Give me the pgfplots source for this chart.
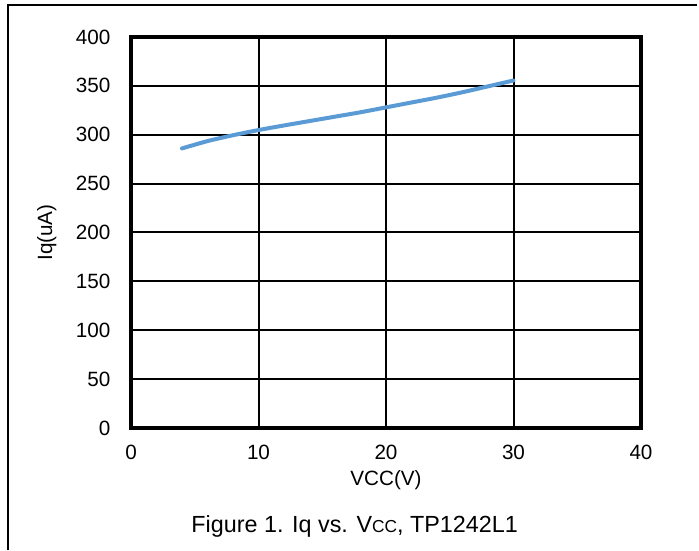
\documentclass[border=0pt]{standalone}
\usepackage{fontspec}
\setmainfont{Liberation Sans}
\usepackage{pgfplots}
\pgfplotsset{compat=1.18}
\definecolor{lineblue}{HTML}{5B9BD5}
\newcommand{\fs}{\fontsize{15.5}{18}\selectfont}
\begin{document}
\begin{tikzpicture}
\path[use as bounding box] (0,0) rectangle (524.25pt,412.5pt);
\draw[line width=2pt] (6pt,0) -- (6pt,408.75pt) -- (522.75pt,408.75pt);
\begin{axis}[
  at={(98.25pt,91.5pt)}, anchor=south west,
  scale only axis, width=382.5pt, height=293.25pt,
  xmin=0, xmax=40, ymin=0, ymax=400,
  xtick={0,10,20,30,40}, ytick={0,50,...,400},
  grid=major, major grid style={black, line width=1.5pt},
  axis line style={black, line width=3pt},
  tick style={draw=none},
  /pgf/number format/assume math mode=true,
  tick label style={font=\fs},
  yticklabel style={xshift=-12pt},
  xticklabel style={yshift=-9pt},
  xlabel={VCC(V)}, ylabel={Iq(uA)},
  label style={font=\fs},
  xlabel style={at={(axis description cs:0.5,-0.133)}, anchor=center},
  ylabel style={at={(axis description cs:-0.165,0.5)}, anchor=center, rotate=0},
]
\addplot[lineblue, line width=3pt, smooth, tension=0.5, line cap=round] coordinates {
(4,286) (6,293.5) (8,299.5) (10,304.8) (12,309.5) (14,314) (16,318.5) (18,323) (20,328) (22,333) (24,338) (26,343.5) (28,349.5) (30,355.5)
};
\end{axis}
\node[font=\fontsize{17.5}{20}\selectfont] at (266pt,17.5pt) {Figure 1. Iq vs. V{\fontsize{13}{14}\selectfont CC}, TP1242L1};
\end{tikzpicture}
\end{document}
